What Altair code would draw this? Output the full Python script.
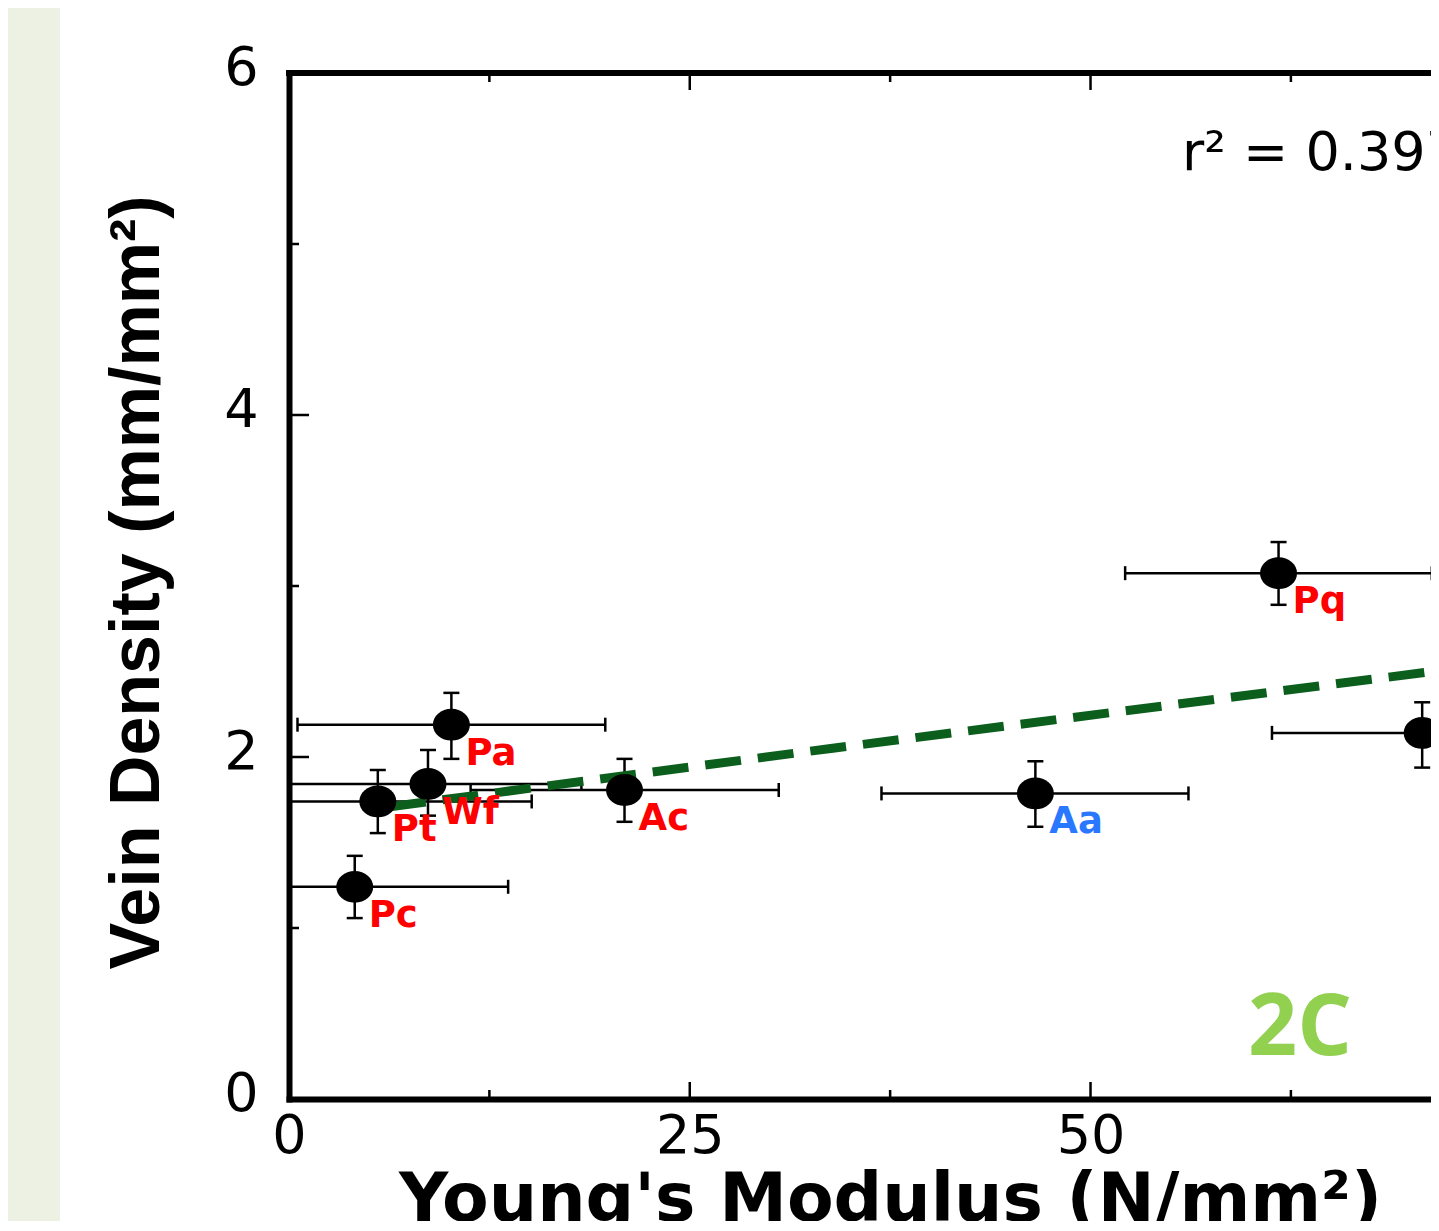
import altair as alt
import pandas as pd

# ---- data ----
species = ["Pc", "Pt", "Wf", "Pa", "Ac", "Aa", "Pq", "Pn"]
modulus = [4.10, 5.54, 8.67, 10.13, 20.93, 46.56, 61.73, 70.69]
modulus_lo = [-5.50, -4.06, -0.90, 0.53, 11.33, 36.96, 52.16, 61.32]
modulus_hi = [13.67, 15.14, 18.24, 19.73, 30.55, 56.11, 71.29, 80.06]
density = [1.241, 1.740, 1.842, 2.189, 1.807, 1.787, 3.075, 2.141]
density_lo = [1.058, 1.555, 1.657, 1.989, 1.621, 1.592, 2.890, 1.938]
density_hi = [1.422, 1.924, 2.041, 2.375, 1.989, 1.975, 3.257, 2.320]
label_colors = ["#FF0000", "#FF0000", "#FF0000", "#FF0000", "#FF0000",
                "#2A78FF", "#FF0000", "#FF0000"]

fit_x = [6.3, 33.8, 72.5]
fit_y = [1.709, 2.050, 2.514]

x_tick_labels = [0, 25, 50]
y_tick_labels = [0, 2, 4, 6]
x_major = [25, 50]
x_minor = [12.5, 37.5, 62.5]
y_major = [2, 4]
y_minor = [1, 3, 5]

r2_text = "r\u00b2 = 0.397"
panel_text = "2C"

# ---- layout (svg must be exactly 1423 wide so the page does not shrink it) ----
W, H = 1142, 1026
XMAX = 71.24
YMAX = 6

df = pd.DataFrame({
    "name": species, "x": modulus, "xlo": modulus_lo, "xhi": modulus_hi,
    "y": density, "ylo": density_lo, "yhi": density_hi, "color": label_colors,
})
fit = pd.DataFrame({"x": fit_x, "y": fit_y})

xs = alt.Scale(domain=[0, XMAX], nice=False, zero=False)
ys = alt.Scale(domain=[0, YMAX], nice=False, zero=False)

base = alt.Chart(df)

x_axis = alt.Axis(
    values=x_tick_labels, format="d", ticks=False, grid=False, domainWidth=6,
    domainColor="black", domainCap="square", labelFont="DejaVu Sans", labelFontSize=54,
    labelColor="black", labelPadding=10, labelFlush=False, labelOverlap=False,
    title="Young's Modulus (N/mm\u00b2)", titleFont="DejaVu Sans", titleFontSize=68,
    titleFontWeight="bold", titleColor="black", titleX=601, titleY=121,
    titleBaseline="alphabetic", titleAlign="center",
)
y_axis = alt.Axis(
    values=y_tick_labels, format="d", ticks=False, grid=False, domainWidth=6,
    domainColor="black", domainCap="square", labelFont="DejaVu Sans", labelFontSize=54,
    labelColor="black", labelPadding=31, labelFlush=False, labelOverlap=False,
    labelBaseline="middle", labelOffset=-5,
    title="Vein Density (mm/mm\u00b2)", titleFont="Liberation Sans", titleFontSize=70,
    titleFontWeight="bold", titleColor="black", titleX=-131, titleY=509,
    titleBaseline="alphabetic", titleAlign="center", titleAngle=270,
)

strip = alt.Chart(pd.DataFrame({"a": [0]})).mark_rect(color="#EDF1E3").encode(
    x=alt.value(-281), x2=alt.value(-229), y=alt.value(-65), y2=alt.value(H + 130)
)

xerr = base.mark_rule(strokeWidth=2.5, color="black", clip=True).encode(
    x=alt.X("xlo:Q", scale=xs, axis=x_axis), x2="xhi:Q",
    y=alt.Y("y:Q", scale=ys, axis=y_axis),
)
xcap_lo = base.mark_tick(orient="vertical", size=14, thickness=2.5, color="black",
                         clip=True, opacity=1).encode(
    x=alt.X("xlo:Q", scale=xs), y=alt.Y("y:Q", scale=ys))
xcap_hi = base.mark_tick(orient="vertical", size=14, thickness=2.5, color="black",
                         clip=True, opacity=1).encode(
    x=alt.X("xhi:Q", scale=xs), y=alt.Y("y:Q", scale=ys))
yerr = base.mark_rule(strokeWidth=2.5, color="black").encode(
    x=alt.X("x:Q", scale=xs), y=alt.Y("ylo:Q", scale=ys), y2="yhi:Q")
ycap_lo = base.mark_tick(orient="horizontal", size=16, thickness=2.5, color="black",
                         opacity=1).encode(
    x=alt.X("x:Q", scale=xs), y=alt.Y("ylo:Q", scale=ys))
ycap_hi = base.mark_tick(orient="horizontal", size=16, thickness=2.5, color="black",
                         opacity=1).encode(
    x=alt.X("x:Q", scale=xs), y=alt.Y("yhi:Q", scale=ys))

fit_line = alt.Chart(fit).mark_line(
    color="#0B5E1C", strokeWidth=9, strokeDash=[36, 17], clip=True, strokeCap="butt"
).encode(x=alt.X("x:Q", scale=xs), y=alt.Y("y:Q", scale=ys))

ELLIPSE = "M-1,0A1,0.86,0,1,0,1,0A1,0.86,0,1,0,-1,0Z"
points = base.mark_point(shape=ELLIPSE, size=1369, filled=True, color="black",
                         opacity=1, strokeWidth=0).encode(
    x=alt.X("x:Q", scale=xs), y=alt.Y("y:Q", scale=ys))

labels = base.mark_text(align="left", baseline="alphabetic", dx=14, dy=40,
                        font="DejaVu Sans", fontSize=37, fontWeight="bold").encode(
    x=alt.X("x:Q", scale=xs), y=alt.Y("y:Q", scale=ys), text="name:N",
    color=alt.Color("color:N", scale=None))

# inward ticks
def xticks(vals, y0, y1):
    return alt.Chart(pd.DataFrame({"v": vals})).mark_rule(
        color="black", strokeWidth=2.5).encode(
        x=alt.X("v:Q", scale=xs), y=alt.value(y0), y2=alt.value(y1))

def yticks(vals, x0, x1):
    return alt.Chart(pd.DataFrame({"v": vals})).mark_rule(
        color="black", strokeWidth=2.5).encode(
        y=alt.Y("v:Q", scale=ys), x=alt.value(x0), x2=alt.value(x1))

tick_layers = [
    xticks(x_major, H, H - 17), xticks(x_minor, H, H - 9),
    xticks(x_major, 0, 17), xticks(x_minor, 0, 9),
    yticks(y_major, 0, 20), yticks(y_minor, 0, 10),
]

top_line = alt.Chart(pd.DataFrame({"a": [0]})).mark_rule(
    color="black", strokeWidth=6, strokeCap="square").encode(
    x=alt.value(0), x2=alt.value(W + 10), y=alt.value(0))

r2 = alt.Chart(pd.DataFrame({"t": [r2_text]})).mark_text(
    align="left", baseline="alphabetic", font="DejaVu Sans", fontSize=54,
    color="black").encode(x=alt.value(893), y=alt.value(97), text="t:N")

panel = alt.Chart(pd.DataFrame({"t": [panel_text]})).mark_text(
    align="center", baseline="alphabetic", font="Open Sans", fontSize=86,
    fontWeight="bold", color="#92D050").encode(
    x=alt.value(1011), y=alt.value(982), text="t:N")

chart = alt.layer(
    strip, xerr, xcap_lo, xcap_hi, yerr, ycap_lo, ycap_hi, fit_line, points, labels,
    *tick_layers, top_line, r2, panel,
).properties(
    width=W, height=H,
    autosize=alt.AutoSizeParams(type="none"),
    padding={"left": 281, "top": 65, "right": 0, "bottom": 122},
    background="white",
).configure_view(stroke=None)

chart.save("out.html", embed_options={"renderer": "svg", "actions": False})
